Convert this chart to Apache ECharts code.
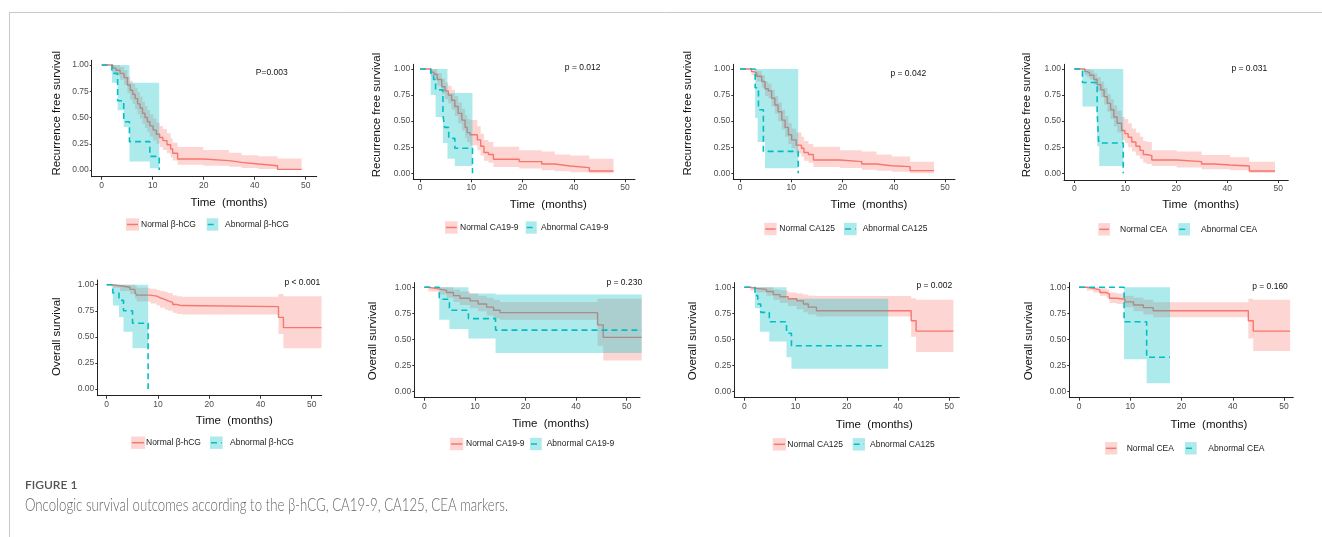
<!DOCTYPE html>
<html>
<head>
<meta charset="utf-8">
<script src="https://cdn.jsdelivr.net/npm/echarts/dist/echarts.min.js"></script>
<style>
  html, body { margin: 0; padding: 0; background: #fff; }
  #chart { width: 1322px; height: 537px; }
</style>
</head>
<body>
<div id="chart"></div>
<script>
// ---- labels ----
const markers = ['β-hCG', 'CA19-9', 'CA125', 'CEA'];
const pRfs = ['P=0.003', 'p = 0.012', 'p = 0.042', 'p = 0.031'];
const pOs = ['p < 0.001', 'p = 0.230', 'p = 0.002', 'p = 0.160'];
const xTickValues = [0, 12.5, 25, 37.5, 50];
const xTickLabels = ['0', '10', '20', '40', '50'];
const yTickValues = [0, 0.25, 0.5, 0.75, 1];

// ---- curves: [time, survival] ; bands: [time, lower, upper] ----
// recurrence free survival, beta-hCG
const rfsHcgNormal = [[0,1],[2.7,0.97],[3.5,0.95],[4.5,0.92],[5.5,0.88],[6.3,0.81],[7.0,0.76],[7.6,0.72],[8.2,0.68],[8.8,0.63],[9.4,0.59],[10.0,0.54],[10.6,0.50],[11.2,0.46],[11.8,0.42],[12.6,0.38],[13.4,0.34],[14.2,0.31],[15.0,0.28],[16.0,0.24],[16.9,0.20],[17.4,0.16],[18.6,0.105],[24.9,0.089],[31.2,0.073],[34.3,0.057],[38.4,0.041],[43.1,0.006],[49.0,0.006]];
const rfsHcgNormalBand = [[0,1,1],[2.7,0.93,1],[3.5,0.90,1],[4.5,0.86,0.98],[5.5,0.81,0.95],[6.3,0.73,0.89],[7.0,0.67,0.85],[7.6,0.63,0.82],[8.2,0.58,0.78],[8.8,0.53,0.74],[9.4,0.49,0.70],[10.0,0.44,0.65],[10.6,0.40,0.61],[11.2,0.36,0.57],[11.8,0.32,0.53],[12.6,0.28,0.49],[13.4,0.25,0.45],[14.2,0.22,0.42],[15.0,0.19,0.39],[16.0,0.16,0.35],[16.9,0.12,0.30],[17.4,0.09,0.26],[18.6,0.05,0.22],[24.9,0.04,0.19],[31.2,0.03,0.165],[34.3,0.02,0.14],[38.4,0.01,0.13],[43.1,0,0.11],[49.0,0,0.11]];
const rfsHcgAbn = [[0,1],[2.5,0.92],[3.9,0.66],[5.4,0.46],[6.8,0.27],[11.8,0.13],[14.1,0]];
const rfsHcgAbnBand = [[0,1,1],[2.5,0.83,1],[3.9,0.57,1],[5.4,0.41,1],[6.8,0.08,0.83],[11.8,0.016,0.83],[14.1,0,0]];

// recurrence free survival, CA19-9
const rfsCa199Normal = [[0,1],[2.7,0.97],[3.4,0.95],[4.2,0.90],[5.3,0.83],[6.1,0.79],[6.9,0.75],[7.7,0.70],[8.5,0.64],[9.3,0.575],[10.2,0.51],[11.0,0.44],[11.5,0.39],[12.2,0.37],[14.0,0.32],[14.8,0.26],[15.6,0.20],[16.7,0.18],[17.9,0.134],[24.2,0.112],[29.7,0.089],[32.9,0.07],[36.6,0.054],[41.3,0.022],[47.2,0.022]];
const rfsCa199NormalBand = [[0,1,1],[2.7,0.93,1],[3.4,0.90,1],[4.2,0.84,0.96],[5.3,0.76,0.91],[6.1,0.71,0.87],[6.9,0.67,0.84],[7.7,0.61,0.80],[8.5,0.55,0.74],[9.3,0.48,0.68],[10.2,0.41,0.62],[11.0,0.34,0.56],[11.5,0.30,0.52],[12.2,0.27,0.51],[14.0,0.22,0.45],[14.8,0.17,0.38],[15.6,0.12,0.32],[16.7,0.10,0.30],[17.9,0.06,0.255],[24.2,0.045,0.22],[29.7,0.03,0.21],[32.9,0.02,0.18],[36.6,0.01,0.17],[41.3,0,0.14],[47.2,0,0.14]];
const rfsCa199Abn = [[0,1],[2.6,0.96],[3.3,0.90],[3.8,0.80],[5.6,0.56],[6.0,0.44],[7.0,0.335],[8.5,0.24],[12.8,0]];
const rfsCa199AbnBand = [[0,1,1],[2.6,0.75,1],[3.8,0.54,1],[5.6,0.29,1],[6.7,0.14,0.77],[8.5,0.07,0.77],[12.8,0,0]];

// recurrence free survival, CA125
const rfsCa125Normal = [[0,1],[2.8,0.975],[3.4,0.96],[4.1,0.93],[5.3,0.88],[6.1,0.81],[6.9,0.79],[7.7,0.72],[8.5,0.655],[9.3,0.59],[10.2,0.51],[11.0,0.44],[11.8,0.37],[12.6,0.32],[13.7,0.27],[15.0,0.24],[15.6,0.20],[16.7,0.18],[17.9,0.128],[24.4,0.112],[29.7,0.089],[33.3,0.073],[37.0,0.064],[41.5,0.026],[47.3,0.026]];
const rfsCa125NormalBand = [[0,1,1],[2.8,0.94,1],[3.4,0.92,1],[4.1,0.88,0.98],[5.3,0.82,0.94],[6.1,0.74,0.88],[6.9,0.72,0.86],[7.7,0.64,0.80],[8.5,0.57,0.74],[9.3,0.50,0.68],[10.2,0.42,0.61],[11.0,0.35,0.55],[11.8,0.28,0.48],[12.6,0.24,0.43],[13.7,0.19,0.39],[15.0,0.16,0.35],[15.6,0.12,0.31],[16.7,0.10,0.28],[17.9,0.06,0.255],[24.4,0.05,0.22],[29.7,0.035,0.21],[33.3,0.025,0.18],[37.0,0.015,0.16],[41.5,0,0.11],[47.3,0,0.11]];
const rfsCa125Abn = [[0,1],[3.7,0.82],[4.5,0.61],[5.7,0.21],[14.2,0]];
const rfsCa125AbnBand = [[0,1,1],[3.7,0.53,1],[4.3,0.30,1],[6.1,0.048,1],[14.2,0,0]];

// recurrence free survival, CEA
const rfsCeaNormal = [[0,1],[2.6,0.975],[3.2,0.96],[3.8,0.94],[4.8,0.90],[5.6,0.85],[6.5,0.80],[7.3,0.735],[8.1,0.67],[8.9,0.61],[9.7,0.54],[10.5,0.48],[11.6,0.41],[12.4,0.38],[13.2,0.345],[14.1,0.30],[15.1,0.26],[16.1,0.22],[16.9,0.18],[17.7,0.17],[19.0,0.128],[25.1,0.112],[31.2,0.089],[34.2,0.08],[38.2,0.07],[42.9,0.022],[49.2,0.022]];
const rfsCeaNormalBand = [[0,1,1],[2.6,0.94,1],[3.2,0.92,1],[3.8,0.90,0.99],[4.8,0.85,0.96],[5.6,0.79,0.92],[6.5,0.73,0.88],[7.3,0.66,0.82],[8.1,0.59,0.76],[8.9,0.52,0.71],[9.7,0.45,0.65],[10.5,0.39,0.60],[11.6,0.32,0.54],[12.4,0.29,0.52],[13.2,0.25,0.48],[14.1,0.21,0.43],[15.1,0.17,0.39],[16.1,0.14,0.35],[16.9,0.10,0.31],[17.7,0.09,0.30],[19.0,0.07,0.22],[25.1,0.055,0.21],[31.2,0.04,0.175],[38.2,0.03,0.153],[42.9,0.005,0.11],[49.2,0.005,0.11]];
const rfsCeaAbn = [[0,1],[2.0,0.87],[5.6,0.58],[6.0,0.29],[12.0,0]];
const rfsCeaAbnBand = [[0,1,1],[2.0,0.64,1],[5.6,0.26,1],[6.1,0.07,1],[12.0,0,0]];

// overall survival, beta-hCG
const osHcgNormal = [[0,1],[1.2,0.99],[3.3,0.975],[5.7,0.955],[6.9,0.925],[7.3,0.90],[10.6,0.89],[12.2,0.875],[13.0,0.86],[14.2,0.845],[15.0,0.83],[16.1,0.81],[17.1,0.80],[18.3,0.79],[41.9,0.687],[43.1,0.588],[52.4,0.588]];
const osHcgNormalBand = [[0,1,1],[1.2,0.97,1],[3.3,0.94,1],[5.7,0.91,1],[6.9,0.87,0.99],[7.3,0.84,0.97],[10.6,0.82,0.96],[12.2,0.80,0.95],[13.0,0.78,0.94],[14.2,0.76,0.93],[15.0,0.75,0.92],[16.1,0.73,0.90],[17.1,0.72,0.89],[18.3,0.715,0.885],[41.9,0.527,0.91],[43.1,0.39,0.89],[52.4,0.39,0.89]];
const osHcgAbn = [[0,1],[1.5,0.92],[3.0,0.85],[4.1,0.75],[6.3,0.63],[10.1,0]];
const osHcgAbnBand = [[0,1,1],[1.5,0.80,1],[3.0,0.69,1],[4.1,0.55,1],[6.3,0.39,1],[10.1,0,0]];

// overall survival, CA19-9
const osCa199Normal = [[0,1],[1.0,0.985],[3.5,0.97],[5.5,0.95],[7.2,0.92],[8.8,0.895],[11.3,0.87],[13.3,0.84],[15.4,0.81],[17.1,0.78],[18.7,0.757],[42.8,0.64],[44.2,0.52],[53.7,0.52]];
const osCa199NormalBand = [[0,1,1],[1.0,0.96,1],[3.5,0.93,1],[5.5,0.90,1],[7.2,0.86,0.98],[8.8,0.83,0.96],[11.3,0.80,0.94],[13.3,0.77,0.92],[15.4,0.73,0.90],[17.1,0.70,0.88],[18.7,0.69,0.86],[42.8,0.44,0.89],[44.2,0.30,0.89],[53.7,0.30,0.89]];
const osCa199Abn = [[0,1],[3.7,0.885],[6.2,0.78],[10.9,0.70],[17.6,0.59],[53.7,0.59]];
const osCa199AbnBand = [[0,1,1],[3.7,0.69,1],[6.2,0.60,1],[10.9,0.51,0.94],[17.6,0.37,0.93],[53.7,0.37,0.93]];

// overall survival, CA125
const osCa125Normal = [[0,1],[1.4,0.99],[3.0,0.98],[5.4,0.96],[7.1,0.93],[8.7,0.91],[10.7,0.89],[12.8,0.87],[14.4,0.84],[15.6,0.81],[17.6,0.776],[40.7,0.68],[41.9,0.58],[51.0,0.58]];
const osCa125NormalBand = [[0,1,1],[1.4,0.97,1],[3.0,0.95,1],[5.4,0.92,1],[7.1,0.88,0.98],[8.7,0.85,0.97],[10.7,0.82,0.95],[12.8,0.79,0.94],[14.4,0.76,0.93],[15.6,0.74,0.92],[17.6,0.72,0.917],[40.7,0.527,0.895],[41.9,0.38,0.88],[51.0,0.38,0.88]];
const osCa125Abn = [[0,1],[2.6,0.92],[3.3,0.84],[4.0,0.76],[6.1,0.67],[10.3,0.56],[11.5,0.44],[34.0,0.44]];
const osCa125AbnBand = [[0,1,1],[2.6,0.80,1],[3.8,0.575,1],[6.1,0.48,1],[10.3,0.33,0.89],[11.5,0.22,0.89],[35.1,0.22,0.89]];

// overall survival, CEA
const osCeaNormal = [[0,1],[1.9,0.99],[3.5,0.975],[5.1,0.95],[6.7,0.935],[7.4,0.895],[9.2,0.885],[11.2,0.86],[13.3,0.83],[15.7,0.805],[18.1,0.776],[41.3,0.68],[42.5,0.58],[51.5,0.58]];
const osCeaNormalBand = [[0,1,1],[1.9,0.97,1],[3.5,0.95,1],[5.1,0.92,0.99],[6.7,0.90,0.98],[7.4,0.85,0.95],[9.2,0.84,0.94],[11.2,0.81,0.92],[13.3,0.77,0.90],[15.7,0.74,0.88],[18.1,0.712,0.856],[41.3,0.51,0.89],[42.5,0.39,0.88],[51.5,0.39,0.88]];
const osCeaAbn = [[0,1],[11.0,0.67],[16.5,0.33],[22.2,0.33]];
const osCeaAbnBand = [[0,1,1],[11.0,0.31,1],[16.5,0.08,1],[22.2,0.08,1]];

// ---- colours ----
const RED = '#F8766D', CYAN = '#00BFC4';
const PINK_FILL = 'rgba(248,118,109,0.3)', CYAN_FILL = 'rgba(0,191,196,0.32)';
const FONT = '"Liberation Sans", Arial, sans-serif';

// ---- panel geometry (pixels): x0/x50 = pixel of t=0/50, y0/y1 = pixel of s=0/1, axis box l/r/b ----
const layout = [
  {x0:101.7, x50:305.7, y0:170,   y1:65,    l:91.7,  r:316.7,  b:176.7, yt:[56.7,113.3],  xt:[229,203],    pv:[271.7,72.3], leg:{y:224.5, n:[126,139,141],    a:[206.7,218.3,225]}},
  {x0:420,   x50:625,   y0:173.3, y1:69,    l:413.3, r:635,    b:179.3, yt:[377.3,115],   xt:[548.3,205],  pv:[582.7,67.7], leg:{y:227.5, n:[445,457.7,460],  a:[525.7,536.7,541]}},
  {x0:740,   x50:945,   y0:173.3, y1:69,    l:733.3, r:955,    b:179.3, yt:[688.3,113.3], xt:[869,205],    pv:[908.3,73.3], leg:{y:229,   n:[764.3,776.7,779.3], a:[844,856.7,862.7]}},
  {x0:1074.3,x50:1278.3,y0:173.3, y1:69,    l:1064,  r:1288.3, b:180,   yt:[1026.7,115],  xt:[1200.7,205], pv:[1249.3,69],  leg:{y:229.3, n:[1098.3,1110,1120], a:[1178.3,1190,1201]}},
  {x0:106.7, x50:311.7, y0:389,   y1:284.7, l:97.3,  r:321.7,  b:395.7, yt:[56.7,336.7],  xt:[234.3,420.7],pv:[302.3,282.7],leg:{y:442.7, n:[131,145,146],    a:[210,222.7,230]}},
  {x0:424.3, x50:626.7, y0:391.7, y1:287.3, l:414.3, r:640,    b:397.7, yt:[373.3,341],   xt:[550.7,424],  pv:[624.3,282.7],leg:{y:444,   n:[450,463.3,466],  a:[530,541.7,546.7]}},
  {x0:744.3, x50:949.3, y0:391.7, y1:287.3, l:734.3, r:959.3,  b:397.7, yt:[693.3,341],   xt:[874.3,425],  pv:[934.3,286],  leg:{y:444.3, n:[772.7,786,787.3], a:[852.7,865,870]}},
  {x0:1079,  x50:1284,  y0:391.7, y1:287.3, l:1069.3,r:1293.3, b:397.7, yt:[1029,341],    xt:[1209,425],   pv:[1270,286.7], leg:{y:448.3, n:[1105,1117.3,1126.7], a:[1185,1196.7,1208.3]}}
];

const panels = [
  {title:'Recurrence free survival', marker:markers[0], p:pRfs[0], normal:rfsHcgNormal,   normalBand:rfsHcgNormalBand,   abn:rfsHcgAbn,   abnBand:rfsHcgAbnBand},
  {title:'Recurrence free survival', marker:markers[1], p:pRfs[1], normal:rfsCa199Normal, normalBand:rfsCa199NormalBand, abn:rfsCa199Abn, abnBand:rfsCa199AbnBand},
  {title:'Recurrence free survival', marker:markers[2], p:pRfs[2], normal:rfsCa125Normal, normalBand:rfsCa125NormalBand, abn:rfsCa125Abn, abnBand:rfsCa125AbnBand},
  {title:'Recurrence free survival', marker:markers[3], p:pRfs[3], normal:rfsCeaNormal,   normalBand:rfsCeaNormalBand,   abn:rfsCeaAbn,   abnBand:rfsCeaAbnBand},
  {title:'Overall survival', marker:markers[0], p:pOs[0], normal:osHcgNormal,   normalBand:osHcgNormalBand,   abn:osHcgAbn,   abnBand:osHcgAbnBand},
  {title:'Overall survival', marker:markers[1], p:pOs[1], normal:osCa199Normal, normalBand:osCa199NormalBand, abn:osCa199Abn, abnBand:osCa199AbnBand},
  {title:'Overall survival', marker:markers[2], p:pOs[2], normal:osCa125Normal, normalBand:osCa125NormalBand, abn:osCa125Abn, abnBand:osCa125AbnBand},
  {title:'Overall survival', marker:markers[3], p:pOs[3], normal:osCeaNormal,   normalBand:osCeaNormalBand,   abn:osCeaAbn,   abnBand:osCeaAbnBand}
];

let chart = echarts.init(document.getElementById('chart'), null, {renderer: 'canvas'});

// step-shaped confidence band drawn as one polygon
function bandSeries(idx, rows, fill, z) {
  return {
    type: 'custom', xAxisIndex: idx, yAxisIndex: idx, silent: true, z: z,
    data: rows, encode: {x: 0, y: [1, 2]},
    renderItem: function (params, api) {
      if (params.dataIndex !== 0) return null;
      let pts = [];
      for (let i = 0; i < rows.length - 1; i++) {
        pts.push(api.coord([rows[i][0], rows[i][2]]), api.coord([rows[i + 1][0], rows[i][2]]));
      }
      for (let i = rows.length - 2; i >= 0; i--) {
        pts.push(api.coord([rows[i + 1][0], rows[i][1]]), api.coord([rows[i][0], rows[i][1]]));
      }
      return {type: 'polygon', shape: {points: pts}, style: {fill: fill}};
    }
  };
}

function stepSeries(idx, data, color, dashed, z) {
  return {
    type: 'line', xAxisIndex: idx, yAxisIndex: idx, silent: true, z: z,
    data: data, step: 'end', symbol: 'none',
    lineStyle: {color: color, width: dashed ? 1.6 : 1.4, type: dashed ? [6, 4] : 'solid'}
  };
}

let grids = [], xAxes = [], yAxes = [], series = [], graphics = [];

panels.forEach(function (pn, i) {
  const g = layout[i];
  const kx = (g.x50 - g.x0) / 50, ky = g.y0 - g.y1;
  const top = g.y1 - 0.045 * ky;
  grids.push({left: g.l, top: top, width: g.r - g.l, height: g.b - top});
  xAxes.push({
    gridIndex: i, type: 'value',
    min: (g.l - g.x0) / kx, max: (g.r - g.x0) / kx,
    axisLine: {onZero: false, lineStyle: {color: '#222', width: 1}},
    axisTick: {customValues: xTickValues, length: 3, lineStyle: {color: '#333'}},
    axisLabel: {customValues: xTickValues, color: '#4d4d4d', fontSize: 8.5, fontFamily: FONT, margin: 4,
      formatter: function (v) { return xTickLabels[xTickValues.indexOf(v)]; }},
    splitLine: {show: false}
  });
  yAxes.push({
    gridIndex: i, type: 'value',
    min: -(g.b - g.y0) / ky, max: 1.045,
    axisLine: {onZero: false, lineStyle: {color: '#222', width: 1}},
    axisTick: {customValues: yTickValues, length: 2, lineStyle: {color: '#333'}},
    axisLabel: {customValues: yTickValues, color: '#4d4d4d', fontSize: 8.5, fontFamily: FONT, margin: 3,
      formatter: function (v) { return v.toFixed(2); }},
    splitLine: {show: false}
  });

  // drawing order: normal band, normal line, abnormal band, abnormal line
  series.push(bandSeries(i, pn.normalBand, PINK_FILL, 1));
  series.push(stepSeries(i, pn.normal, RED, false, 2));
  series.push(bandSeries(i, pn.abnBand, CYAN_FILL, 3));
  series.push(stepSeries(i, pn.abn, CYAN, true, 4));

  // axis titles and p value
  graphics.push({type: 'text', x: g.yt[0], y: g.yt[1], rotation: Math.PI / 2,
    style: {text: pn.title, fill: '#111', fontSize: 11.5, fontFamily: FONT, align: 'center', verticalAlign: 'middle'}});
  graphics.push({type: 'text', x: g.xt[0], y: g.xt[1],
    style: {text: 'Time  (months)', fill: '#111', fontSize: 11.5, fontFamily: FONT, align: 'center', verticalAlign: 'middle'}});
  graphics.push({type: 'text', x: g.pv[0], y: g.pv[1],
    style: {text: pn.p, fill: '#111', fontSize: 8.5, fontFamily: FONT, align: 'center', verticalAlign: 'middle'}});

  // legend keys
  const ly = g.leg.y;
  [[g.leg.n, PINK_FILL, RED, false, 'Normal ' + pn.marker], [g.leg.a, CYAN_FILL, CYAN, true, 'Abnormal ' + pn.marker]].forEach(function (k) {
    const sw = k[0];
    graphics.push({type: 'rect', shape: {x: sw[0], y: ly - 6.2, width: sw[1] - sw[0], height: 12.4}, style: {fill: k[1]}});
    graphics.push({type: 'line', shape: {x1: sw[0] + 1, y1: ly, x2: sw[1] - 1, y2: ly},
      style: {stroke: k[2], lineWidth: 1.5, lineDash: k[3] ? [6, 4] : null}});
    graphics.push({type: 'text', x: sw[2], y: ly,
      style: {text: k[4], fill: '#222', fontSize: 8.5, fontFamily: FONT, align: 'left', verticalAlign: 'middle'}});
  });
});

// frame and caption
graphics.push({type: 'line', shape: {x1: 9, y1: 12.5, x2: 1322, y2: 12.5}, style: {stroke: '#c8c8c8', lineWidth: 1}});
graphics.push({type: 'line', shape: {x1: 9.5, y1: 12, x2: 9.5, y2: 537}, style: {stroke: '#c8c8c8', lineWidth: 1}});

const captionText = 'Oncologic survival outcomes according to the β-hCG, CA19-9, CA125, CEA markers.';
const capFont = '300 17px Lato';
let ctx = document.createElement('canvas').getContext('2d');
ctx.font = capFont;
const capScale = 483 / ctx.measureText(captionText).width;

graphics.push({type: 'text', x: 25, y: 485,
  style: {text: 'FIGURE 1', fill: '#555', fontSize: 12, fontWeight: 600, fontFamily: 'Lato', align: 'left', verticalAlign: 'middle'}});
graphics.push({type: 'text', x: 25, y: 506, scaleX: capScale,
  style: {text: captionText, fill: '#666', fontSize: 17, fontWeight: 300, fontFamily: 'Lato', align: 'left', verticalAlign: 'middle'}});

chart.setOption({
  backgroundColor: '#fff',
  animation: false,
  grid: grids,
  xAxis: xAxes,
  yAxis: yAxes,
  series: series,
  graphic: {elements: graphics}
});
</script>
</body>
</html>
